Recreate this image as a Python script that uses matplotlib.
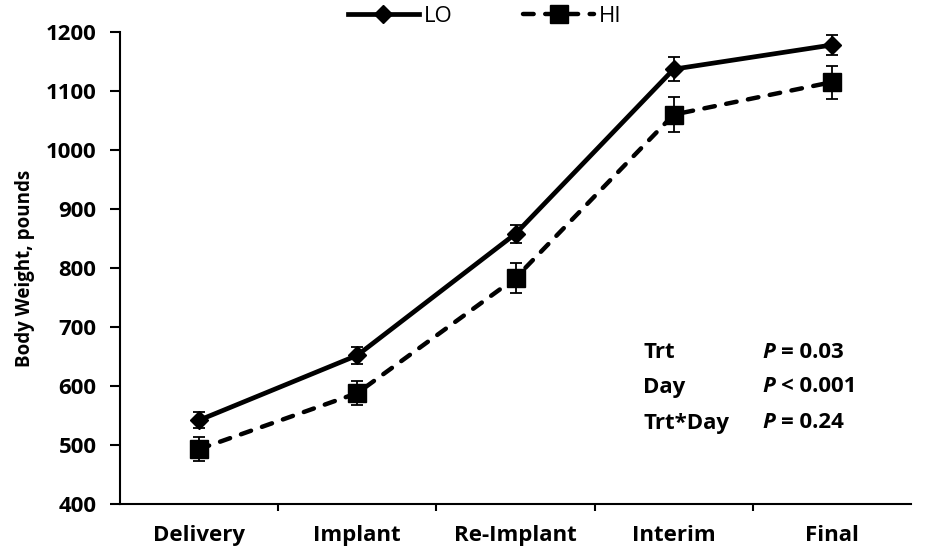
import numpy as np
import matplotlib.pyplot as plt
from matplotlib.lines import Line2D

# ---- data ----
DAYS = ["Delivery", "Implant", "Re-Implant", "Interim", "Final"]
LO_MEAN = [542, 652, 858, 1137, 1178]
LO_SE = [14, 14, 15, 20, 17]
HI_MEAN = [493, 588, 783, 1060, 1115]
HI_SE = [20, 21, 25, 29, 28]

STATS = [("Trt", "=", "0.03"), ("Day", "<", "0.001"), ("Trt*Day", "=", "0.24")]

plt.rcParams["font.family"] = ["Open Sans", "DejaVu Sans"]

fig = plt.figure(figsize=(9.25, 5.56), dpi=100)
ax = fig.add_axes([120 / 925, 1 - 504 / 556, 791 / 925, 472 / 556])

x = np.arange(len(DAYS))
DASH = (0, (2.4, 2.6))

ax.errorbar(x, LO_MEAN, yerr=LO_SE, color="black", linewidth=3.4,
            marker="D", markersize=9, capsize=4, elinewidth=1.3, capthick=1.3)
ax.errorbar(x, HI_MEAN, yerr=HI_SE, color="black", linewidth=3.2,
            linestyle=DASH, dash_capstyle="round",
            marker="s", markersize=13, capsize=4, elinewidth=1.3, capthick=1.3)

ax.set_xlim(-0.5, 4.5)
ax.set_ylim(400, 1200)
ax.set_yticks(np.arange(400, 1201, 100))
ax.set_xticks(x)
ax.set_xticklabels(DAYS, fontsize=16, fontweight="bold")
ax.set_xticks(np.arange(0.5, 4.5, 1), minor=True)
ax.tick_params(axis="x", which="major", length=0, pad=15)
ax.tick_params(axis="x", which="minor", length=5, width=1.5, direction="out")
ax.tick_params(axis="y", length=7, width=1.5, direction="out", labelsize=16, pad=10)
for lb in ax.get_yticklabels():
    lb.set_fontweight("bold")

ax.spines["top"].set_visible(False)
ax.spines["right"].set_visible(False)
ax.spines["left"].set_linewidth(1.5)
ax.spines["bottom"].set_linewidth(1.5)

ax.set_ylabel("Body Weight, pounds", fontsize=13.5, fontweight="bold", labelpad=8)

# legend (line + marker only)
handles = [
    Line2D([], [], color="black", linewidth=3.4, marker="D", markersize=9),
    Line2D([], [], color="black", linewidth=3.2, linestyle=DASH,
           dash_capstyle="round", marker="s", markersize=13),
]
fig.legend(handles, ["LO", "HI"], loc="upper center", bbox_to_anchor=(0.524, 1.025),
           ncol=2, frameon=False, fontsize=16, handlelength=3.2,
           columnspacing=3.2, handletextpad=0.2)

# stats text
ys = [352, 387, 423]
for (lab, op, val), yp in zip(STATS, ys):
    yf = 1 - yp / 556
    fig.text(643 / 925, yf, lab, fontsize=16, fontweight="bold", va="center")
    fig.text(762 / 925, yf, "P", fontsize=16, fontweight="bold", style="italic",
             va="center")
    fig.text(781 / 925, yf, f"{op} {val}", fontsize=16, fontweight="bold",
             va="center")

fig.savefig("out.png", dpi=100)
